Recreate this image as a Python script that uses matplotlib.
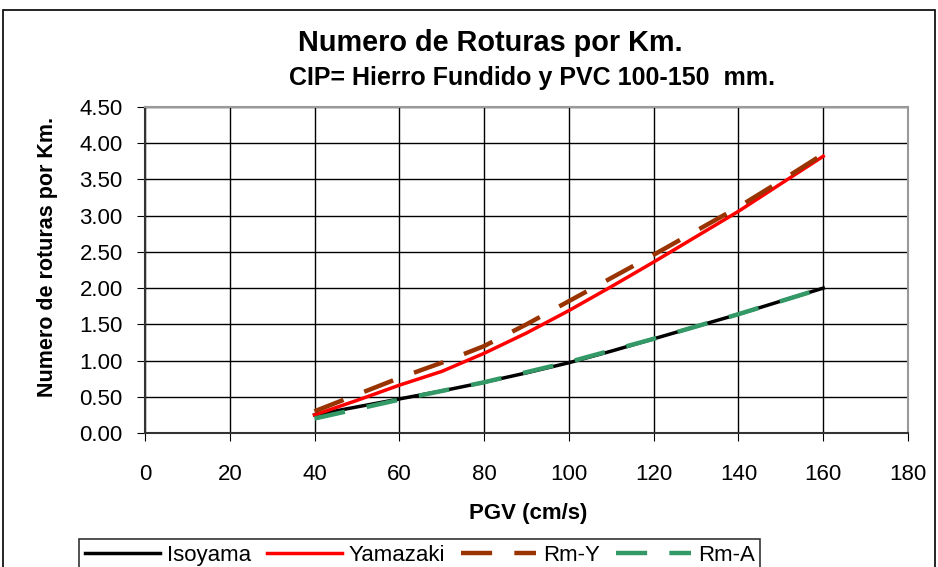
import matplotlib
matplotlib.use("Agg")
import matplotlib.pyplot as plt
from matplotlib.patches import Rectangle

plt.rcParams['font.family'] = ['Liberation Sans', 'DejaVu Sans']

pgv = [40, 50, 60, 70, 80, 90, 100, 110, 120, 130, 140, 150, 160]
isoyama = [0.25, 0.36, 0.47, 0.58, 0.70, 0.83, 0.97, 1.13, 1.30, 1.47, 1.64, 1.82, 2.00]
yamazaki = [0.25, 0.45, 0.66, 0.85, 1.10, 1.38, 1.69, 2.02, 2.36, 2.71, 3.06, 3.44, 3.82]
rm_y = [0.30, 0.53, 0.76, 0.97, 1.20, 1.50, 1.82, 2.14, 2.46, 2.79, 3.12, 3.48, 3.85]
rm_a = [0.20, 0.33, 0.46, 0.58, 0.70, 0.84, 0.98, 1.14, 1.30, 1.47, 1.64, 1.82, 2.00]

x_ticks = [0, 20, 40, 60, 80, 100, 120, 140, 160, 180]
y_ticks = [0.0, 0.5, 1.0, 1.5, 2.0, 2.5, 3.0, 3.5, 4.0, 4.5]

W, H = 938, 567
fig = plt.figure(figsize=(W / 100, H / 100), dpi=100)
fig.patch.set_facecolor('white')

# outer chart border
fig.add_artist(Rectangle((3 / W, -0.01), 1 - 6 / W, 1 - 10 / H + 0.01,
                         transform=fig.transFigure, fill=False,
                         edgecolor='black', linewidth=1.2))

left, right, top, bottom = 145, 908, 107, 433
ax = fig.add_axes([left / W, 1 - bottom / H, (right - left) / W, (bottom - top) / H])

ax.plot(pgv, isoyama, color='black', lw=2.5, label='Isoyama', zorder=3)
ax.plot(pgv, yamazaki, color='#ff0000', lw=2.5, label='Yamazaki', zorder=4)
ax.plot(pgv, rm_y, color='#993300', lw=3.2, dashes=(7, 5), label='Rm-Y', zorder=5)
ax.plot(pgv, rm_a, color='#339966', lw=3.2, dashes=(7, 5), label='Rm-A', zorder=5)

ax.set_xlim(0, 180)
ax.set_ylim(0, 4.5)
ax.set_xticks(x_ticks)
ax.set_yticks(y_ticks)
ax.set_xticklabels([str(v) for v in x_ticks], fontsize=16)
ax.set_yticklabels([f"{v:.2f}" for v in y_ticks], fontsize=16)
ax.grid(True, color='black', linewidth=1.0)
ax.set_axisbelow(True)
ax.tick_params(axis='x', direction='out', length=6, pad=16)
ax.tick_params(axis='y', direction='out', length=6, pad=10)

for s in ['top', 'right']:
    ax.spines[s].set_color('#999999')
    ax.spines[s].set_linewidth(1.5)
for s in ['left', 'bottom']:
    ax.spines[s].set_color('#333333')
    ax.spines[s].set_linewidth(1.5)

fig.text(528 / W, 1 - 513 / H, 'PGV (cm/s)', ha='center', va='center',
         fontsize=16, fontweight='bold')
fig.text(47 / W, 1 - 257 / H, 'Numero de roturas por Km.', ha='center', va='center',
         rotation=90, fontsize=15.5, fontweight='bold')

fig.text(490 / W, 1 - 43 / H, 'Numero de Roturas por Km.',
         ha='center', va='center', fontsize=20.8, fontweight='bold')
fig.text(532 / W, 1 - 78 / H, 'CIP= Hierro Fundido y PVC 100-150  mm.',
         ha='center', va='center', fontsize=18, fontweight='bold')

leg = fig.legend(loc='upper left', bbox_to_anchor=(68 / W, 1 - 528 / H), ncol=4,
                 fontsize=16, frameon=True, fancybox=False, handlelength=3.4,
                 handletextpad=0.3, columnspacing=0.7, borderpad=0.25)
leg.get_frame().set_edgecolor('black')
leg.get_frame().set_linewidth(1.2)

fig.savefig('out.png', dpi=100)
